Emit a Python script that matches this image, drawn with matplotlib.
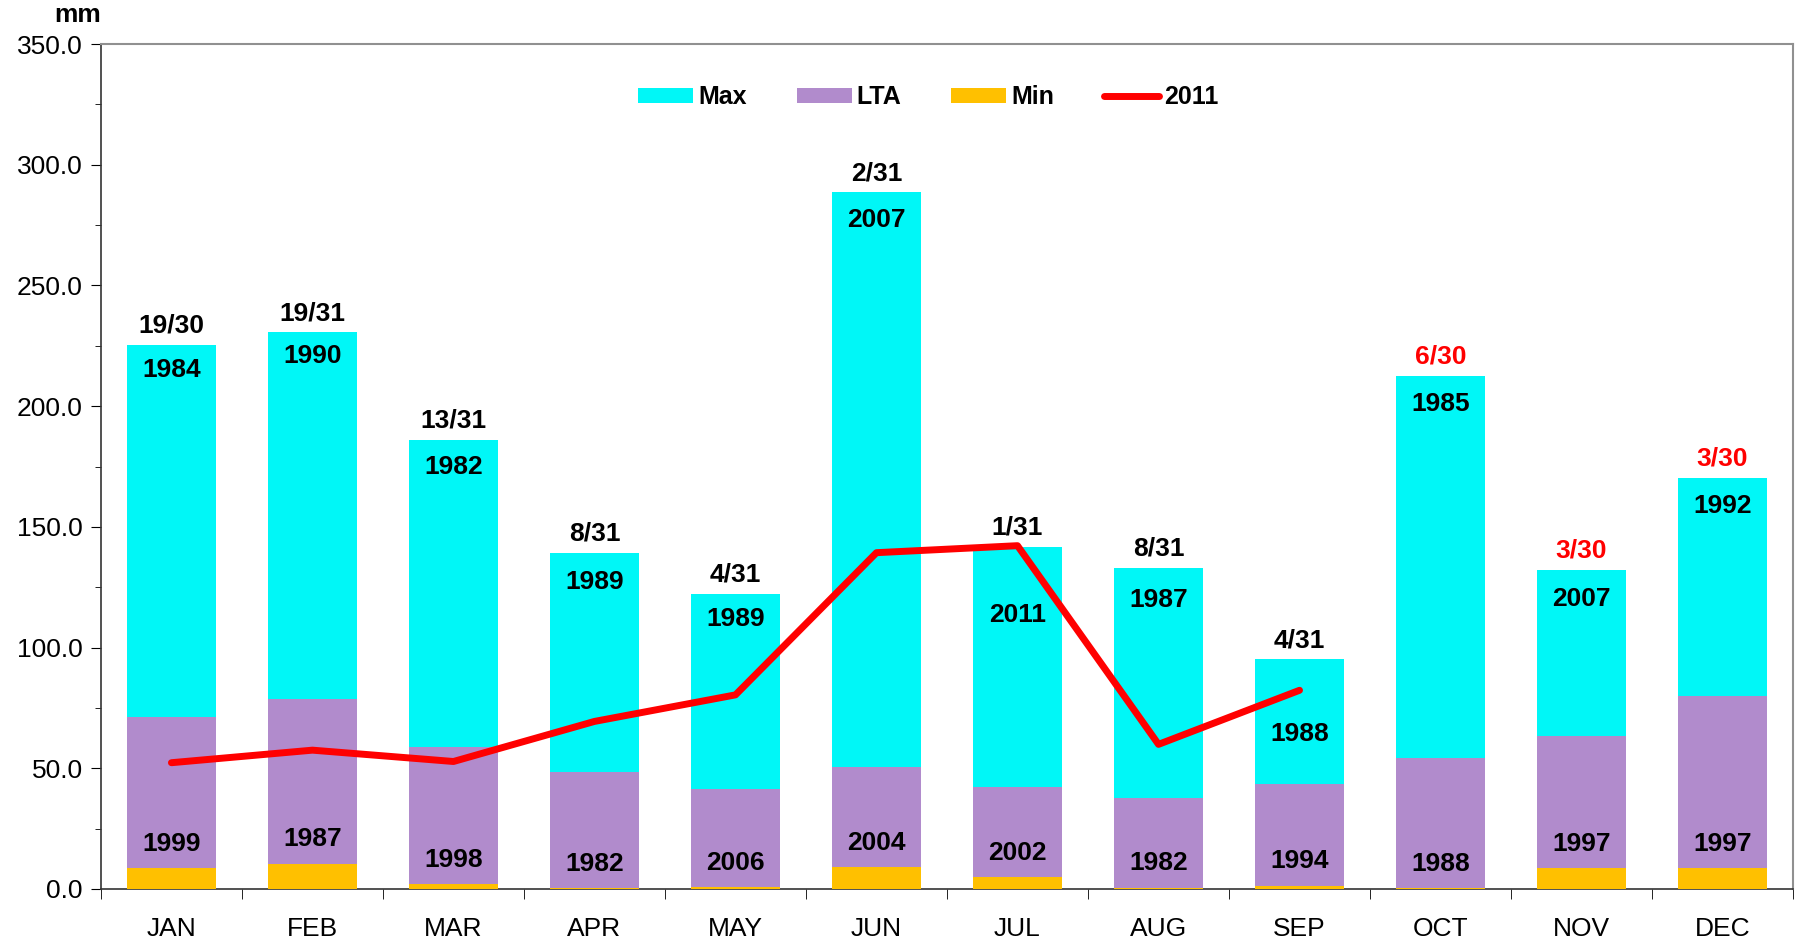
import matplotlib
matplotlib.use("Agg")
import matplotlib.pyplot as plt
import numpy as np

plt.rcParams['font.family'] = ['Liberation Sans', 'DejaVu Sans']

months = ["JAN", "FEB", "MAR", "APR", "MAY", "JUN", "JUL", "AUG", "SEP", "OCT", "NOV", "DEC"]
max_vals = [225.4, 230.6, 185.9, 139.3, 122.2, 288.6, 141.7, 133.1, 95.1, 212.6, 132.2, 170.2]
lta_vals = [71.3, 78.5, 59.0, 48.5, 41.4, 50.4, 42.3, 37.6, 43.3, 54.2, 63.2, 79.9]
min_vals = [8.6, 10.5, 1.9, 0.2, 0.8, 9.0, 4.8, 0.6, 1.4, 0.5, 8.6, 8.6]
rain_2011 = [52.3, 57.5, 52.8, 69.4, 80.4, 139.3, 142.2, 59.9, 82.3]

max_years = ["1984", "1990", "1982", "1989", "1989", "2007", "2011", "1987", "1988", "1985", "2007", "1992"]
min_years = ["1999", "1987", "1998", "1982", "2006", "2004", "2002", "1982", "1994", "1988", "1997", "1997"]
rank_labels = ["19/30", "19/31", "13/31", "8/31", "4/31", "2/31", "1/31", "8/31", "4/31", "6/30", "3/30", "3/30"]
rank_red = [False] * 9 + [True] * 3

# where the max-year labels sit (two are pushed down to clear the line)
max_label_y = [214.9, 220.6, 175.0, 127.0, 111.7, 277.2, 113.6, 119.8, 64.2, 200.7, 120.3, 158.8]

x = np.arange(len(months))
w = 0.63
fs = 19

fig = plt.figure(figsize=(17.99, 9.43), dpi=100)
ax = fig.add_axes([0.0561, 0.0573, 0.9406, 0.896])

b1 = ax.bar(x, max_vals, w, color="#00F7F7", label="Max", zorder=2)
b2 = ax.bar(x, lta_vals, w, color="#B18BCC", label="LTA", zorder=3)
b3 = ax.bar(x, min_vals, w, color="#FFC000", label="Min", zorder=4)
l1, = ax.plot(x[:len(rain_2011)], rain_2011, color="#FF0000", lw=5, solid_capstyle="round",
              label="2011", zorder=5)

for i in range(len(months)):
    ax.text(x[i], max_vals[i] + 3, rank_labels[i], ha="center", va="bottom",
            fontsize=fs, fontweight="bold", color="red" if rank_red[i] else "black", zorder=6)
    ax.text(x[i], max_label_y[i], max_years[i], ha="center", va="center",
            fontsize=fs, fontweight="bold", zorder=6)
    ax.text(x[i], max(min_vals[i], 0.5) + 10, min_years[i], ha="center", va="center",
            fontsize=fs, fontweight="bold", zorder=6)

ax.set_xlim(-0.5, len(months) - 0.5)
ax.set_ylim(0, 350)
ax.set_yticks(np.arange(0, 351, 50))
ax.set_yticks(np.arange(0, 351, 25), minor=True)
ax.set_yticklabels(["%.1f" % v for v in np.arange(0, 351, 50)], fontsize=fs)
ax.set_xticks(x)
ax.set_xticklabels(months, fontsize=fs)
ax.set_xticks(np.arange(-0.5, len(months)), minor=True)
ax.tick_params(axis="x", which="major", length=0, pad=20)
ax.tick_params(axis="x", which="minor", length=7, direction="out")
ax.tick_params(axis="y", which="major", length=7, direction="out", pad=6)
ax.tick_params(axis="y", which="minor", length=4, direction="out")

for s in ["left", "bottom"]:
    ax.spines[s].set_color("#333333")
    ax.spines[s].set_linewidth(1.2)
for s in ["top", "right"]:
    ax.spines[s].set_color("#909090")
    ax.spines[s].set_linewidth(1.5)

fig.text(0.043, 0.984, "mm", fontsize=19, fontweight="bold", ha="center", va="center")

ax.legend([b1, b2, b3, l1], ["Max", "LTA", "Min", "2011"], loc="center",
          bbox_to_anchor=(0.489, 0.937), ncol=4, frameon=False,
          prop={"weight": "bold", "size": 18}, handlelength=2.2, handleheight=0.6,
          columnspacing=2.0, handletextpad=0.2)

fig.savefig("out.png", dpi=100)
